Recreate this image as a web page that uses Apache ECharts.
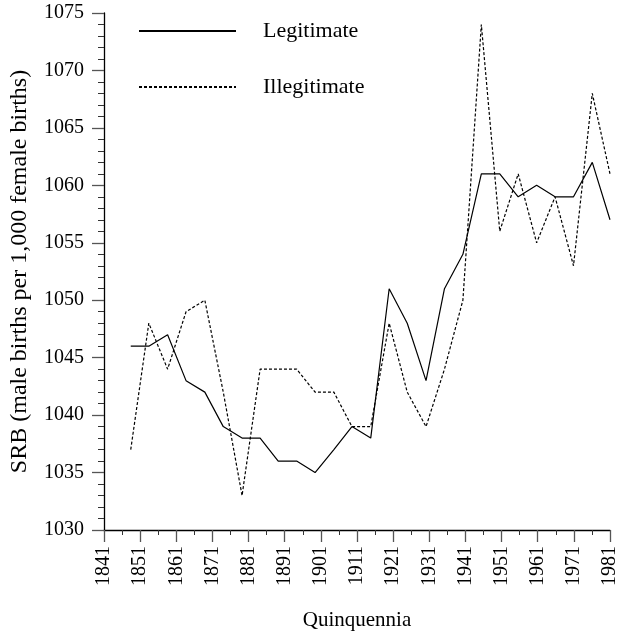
<!DOCTYPE html>
<html>
<head>
<meta charset="utf-8">
<script src="https://cdn.jsdelivr.net/npm/echarts@6/dist/echarts.min.js"></script>
<style>
  html, body { margin: 0; padding: 0; background: #fff; }
  #srb { width: 625px; height: 636px; }
</style>
</head>
<body>
<div id="srb"></div>
<script>
// quinquennia positions
const years = [1848.4, 1853.4, 1858.6, 1863.7, 1868.9, 1874.0, 1879.2, 1884.2, 1889.2, 1894.3,
  1899.4, 1904.6, 1909.6, 1914.8, 1919.9, 1924.9, 1930.1, 1935.2, 1940.3, 1945.4,
  1950.5, 1955.6, 1960.7, 1965.8, 1970.9, 1976.1, 1981.0];
const legitimate = [1046, 1046, 1047, 1043, 1042, 1039, 1038, 1038, 1036, 1036,
  1035, 1037, 1039, 1038, 1051, 1048, 1043, 1051, 1054, 1061,
  1061, 1059, 1060, 1059, 1059, 1062, 1057];
const illegitimate = [1037, 1048, 1044, 1049, 1050, 1042, 1033, 1044, 1044, 1044,
  1042, 1042, 1039, 1039, 1048, 1042, 1039, 1044, 1050, 1074,
  1056, 1061, 1055, 1059, 1053, 1068, 1061];

const font = 'Liberation Serif';
const ink = '#000';

const initChart = () => {
  const chartDom = document.getElementById('srb');
  const myChart = echarts.init(chartDom);

  const pairs = (ys) => years.map((x, i) => [x, ys[i]]);

  const option = {
    animation: false,
    backgroundColor: '#fff',
    grid: {
      left: 102,
      right: 15,
      top: 13,
      bottom: 105,
    },
    legend: {
      left: 133,
      top: 14,
      orient: 'vertical',
      itemWidth: 97,
      itemHeight: 14,
      itemGap: 32,
      data: ['Legitimate', 'Illegitimate'],
      // hide the marker dot, keep only the line sample
      itemStyle: { color: 'rgba(0,0,0,0)', borderWidth: 0 },
      textStyle: {
        fontFamily: font,
        fontSize: 22,
        color: ink,
        lineHeight: 24,
        padding: [0, 0, 0, 22],
      },
    },
    xAxis: {
      type: 'value',
      min: 1841,
      max: 1981,
      interval: 10,
      name: 'Quinquennia',
      nameLocation: 'middle',
      nameGap: 80,
      nameTextStyle: { fontFamily: font, fontSize: 21, color: ink },
      axisLine: { lineStyle: { color: ink, width: 1.3 } },
      axisTick: { length: 12, lineStyle: { color: '#555', width: 1.3 } },
      minorTick: { show: true, splitNumber: 2, length: 5, lineStyle: { color: '#333', width: 1 } },
      splitLine: { show: false },
      axisLabel: {
        rotate: 90,
        margin: 16,
        fontFamily: font,
        fontSize: 20,
        color: ink,
        formatter: (v) => String(v),
      },
    },
    yAxis: {
      type: 'value',
      min: 1030,
      max: 1075,
      interval: 5,
      name: 'SRB (male births per 1,000 female births)',
      nameLocation: 'middle',
      nameGap: 72,
      nameTextStyle: { fontFamily: font, fontSize: 24, color: ink },
      axisLine: { show: true, lineStyle: { color: ink, width: 1.3 } },
      axisTick: { show: true, length: 12, lineStyle: { color: '#555', width: 1.3 } },
      minorTick: { show: true, splitNumber: 5, length: 6, lineStyle: { color: '#333', width: 1 } },
      splitLine: { show: false },
      axisLabel: {
        margin: 20,
        fontFamily: font,
        fontSize: 20,
        color: ink,
        formatter: (v) => String(v),
      },
    },
    series: [
      {
        name: 'Legitimate',
        type: 'line',
        symbol: 'none',
        data: pairs(legitimate),
        lineStyle: { color: ink, width: 1.2 },
        itemStyle: { color: ink },
      },
      {
        name: 'Illegitimate',
        type: 'line',
        symbol: 'none',
        data: pairs(illegitimate),
        lineStyle: { color: ink, width: 1.2, type: [3, 2] },
        itemStyle: { color: ink },
      },
    ],
  };

  option && myChart.setOption(option);
};

initChart();
</script>
</body>
</html>
